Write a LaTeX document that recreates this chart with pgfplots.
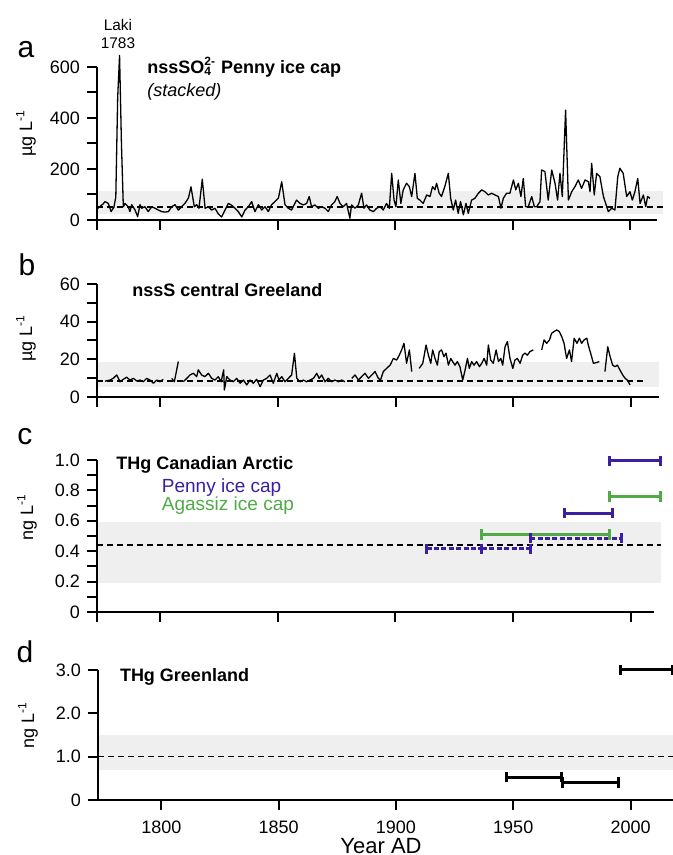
\documentclass[border=0pt]{standalone}
\usepackage{pgfplots}
\pgfplotsset{compat=1.18}
\usepackage{fontspec}
\setmainfont{Liberation Sans}
\definecolor{pennyblue}{HTML}{3C1EA0}
\definecolor{agassizgreen}{HTML}{50AA46}
\definecolor{bandgray}{HTML}{EFEFEF}
\newcommand{\tfont}{\fontsize{9}{10}\selectfont}
\pgfplotsset{
 panel/.style={
  scale only axis, axis lines=left, axis line style={-, line width=1pt},
  tick align=outside, major tick length=5pt, minor tick length=5pt,
  tick style={black, line width=1pt},
  xmin=1773, xtick={1800,1850,1900,1950,2000}, xticklabels={},
  tick label style={font=\fontsize{9}{10}\selectfont},
  /pgf/number format/assume math mode=true,
  clip=false, anchor=south west, axis on top,
 },
 meanline/.style={black, line width=0.8pt, dash pattern=on 3pt off 2pt},
 band/.style={draw=none, fill=bandgray, forget plot},
 series/.style={black, line width=0.65pt, line join=round},
 ebar/.style={line width=1.5pt, mark=|, mark size=2.6pt, mark options={solid}},
}
\begin{document}
\begin{tikzpicture}
\useasboundingbox (0,0) rectangle (336.5pt,427.5pt);

% ---------------- panel a
\begin{axis}[panel, at={(48.5pt,317.5pt)}, width=280pt, height=76.5pt,
  xmax=2011.3, ymin=0, ymax=600, ytick={0,200,400,600}, minor ytick={100,300,500},
  extra x ticks={1773}, extra x tick labels={}]
\addplot[band] coordinates {(1773,25) (2014,25) (2014,113) (1773,113)} -- cycle;
\addplot[meanline] coordinates {(1773,52) (2014,52)};
\addplot[series] table {
1773.3 45
1774.5 55
1775.5 62
1776.4 72
1777.8 65
1779.0 33
1780.2 50
1781.0 90
1781.8 480
1782.6 645
1783.4 300
1784.2 52
1784.9 65
1786.3 52
1787.0 33
1787.8 60
1789.2 39
1790.3 13
1791.3 60
1792.0 46
1793.4 52
1794.8 33
1796.3 52
1797.7 46
1799.1 39
1800.5 33
1801.9 31
1803.4 33
1804.8 52
1806.2 60
1807.6 39
1809.0 52
1810.4 65
1811.9 86
1813.0 130
1814.4 52
1815.4 60
1816.4 46
1817.8 160
1819.0 46
1820.4 52
1821.8 39
1823.2 46
1824.6 24
1826.0 12
1827.5 39
1828.9 65
1830.3 58
1831.7 46
1833.1 33
1834.6 12
1836.0 39
1837.4 52
1838.8 72
1840.2 33
1841.7 60
1843.1 39
1844.5 52
1845.9 33
1847.3 60
1848.7 72
1850.2 86
1851.6 150
1853.0 60
1854.4 46
1855.8 39
1857.9 78
1859.4 65
1860.8 59
1862.2 65
1863.3 92
1864.3 52
1865.7 59
1867.2 46
1868.6 52
1870.0 46
1871.4 33
1872.8 59
1874.2 72
1875.2 92
1876.4 65
1877.8 52
1879.2 65
1880.6 7
1881.3 59
1882.8 46
1884.2 59
1885.6 105
1886.6 46
1887.7 59
1889.1 39
1890.6 33
1892.0 46
1893.4 52
1894.8 39
1896.2 65
1897.4 46
1898.4 183
1899.4 78
1900.2 52
1901.2 157
1902.3 65
1903.3 118
1904.7 144
1905.9 131
1906.9 92
1908.3 183
1909.3 85
1910.4 78
1911.8 65
1913.3 98
1914.7 92
1915.8 131
1916.8 118
1917.5 144
1918.6 105
1919.6 92
1921.0 131
1922.5 183
1923.5 85
1924.6 39
1925.6 78
1926.7 26
1927.7 72
1928.9 20
1930.0 65
1931.0 26
1932.4 78
1933.8 85
1935.3 105
1936.7 118
1938.1 111
1939.5 98
1940.9 105
1942.4 98
1943.8 92
1944.9 46
1945.9 85
1947.3 105
1948.7 105
1950.2 157
1951.2 118
1952.3 144
1953.4 92
1954.4 163
1955.4 52
1956.5 52
1958.0 92
1959.1 52
1960.1 52
1961.5 72
1962.2 196
1963.6 190
1965.0 78
1966.5 196
1967.9 144
1969.0 78
1970.0 183
1971.0 92
1972.4 431
1973.6 78
1975.0 111
1976.4 131
1977.8 157
1979.2 124
1980.7 157
1982.1 150
1982.8 111
1983.5 222
1984.6 98
1985.6 183
1987.0 170
1988.5 92
1989.9 52
1990.6 33
1992.0 46
1993.4 39
1994.6 170
1995.5 203
1996.9 183
1998.4 92
1999.8 111
2000.8 78
2001.9 111
2003.1 163
2004.1 65
2005.5 98
2006.5 52
2007.3 92
2008.3 85
};
\end{axis}

% ---------------- panel b
\begin{axis}[panel, at={(48.5pt,229pt)}, width=281pt, height=56.5pt,
  xmax=2012.1, ymin=0, ymax=60, ytick={0,20,40,60}, minor ytick={10,30,50},
  extra x ticks={1773}, extra x tick labels={}, unbounded coords=jump]
\addplot[band] coordinates {(1773,5.5) (2012,5.5) (2012,18.8) (1773,18.8)} -- cycle;
\addplot[meanline] coordinates {(1773,8.6) (2006,8.6)};
\addplot[series] table {
1776.4 8.4
1778.5 9.0
1779.9 9.9
1781.4 11.7
1782.8 8.1
1784.2 9.4
1785.6 10.5
1787.0 9.0
1788.5 9.9
1789.9 8.5
1791.3 9.0
1792.7 8.1
1794.1 9.9
1795.5 9.0
1797.0 7.3
1798.4 9.0
1799.8 8.1
1801.2 9.4
1803.0 nan
1804.8 9.9
1805.9 8.1
1807.6 18.8
1808.6 nan
1809.7 8.1
1811.2 9.9
1812.6 11.7
1814.0 12.6
1815.4 10.8
1816.1 14.4
1817.5 11.7
1818.9 10.8
1820.4 12.6
1821.8 9.9
1823.2 9.0
1824.6 10.8
1825.8 8.1
1826.9 14.4
1827.2 3.7
1828.2 10.8
1829.6 9.0
1831.0 8.1
1832.4 9.9
1833.9 7.3
1835.3 9.0
1836.7 6.4
1838.1 9.0
1839.5 7.3
1840.9 9.4
1842.4 5.5
1843.8 9.0
1845.2 9.9
1846.6 11.7
1848.0 7.3
1849.5 12.6
1850.4 9.0
1851.6 10.8
1853.0 8.1
1854.4 9.9
1855.8 11.7
1857.0 23.2
1858.0 9.9
1859.4 8.1
1860.8 9.0
1862.2 8.1
1863.6 9.0
1865.1 9.9
1866.5 12.6
1867.5 9.9
1868.6 11.7
1870.0 8.1
1871.4 9.9
1872.8 8.1
1874.3 9.0
1875.7 8.1
1877.1 9.0
1878.5 8.1
1880.0 nan
1881.4 9.9
1882.8 11.7
1884.2 9.0
1885.6 10.8
1887.0 12.6
1888.5 9.9
1889.9 11.7
1891.3 13.5
1892.7 9.9
1893.6 9.0
1894.8 13.5
1896.2 15.2
1897.7 16.9
1899.1 20.5
1900.5 19.6
1901.6 22.2
1902.6 25.0
1903.6 28.5
1904.7 17.9
1905.9 25.0
1906.9 13.5
1908.5 nan
1910.1 15.2
1911.6 17.9
1913.0 27.6
1914.0 22.2
1915.0 17.9
1915.8 25.0
1916.8 20.5
1917.8 16.9
1918.6 24.1
1919.6 25.0
1920.6 21.4
1921.5 23.3
1922.5 16.9
1923.5 20.5
1924.3 18.8
1925.3 16.9
1926.3 18.8
1927.4 16.1
1928.6 9.0
1929.6 14.3
1930.6 20.5
1931.4 15.2
1932.4 18.8
1933.4 16.9
1934.5 18.8
1935.7 16.1
1936.7 17.9
1937.7 20.5
1938.8 16.9
1939.5 27.6
1940.5 19.6
1941.6 17.9
1942.8 25.0
1943.8 18.8
1944.8 20.5
1945.6 16.9
1946.6 26.7
1947.6 29.4
1948.7 20.5
1949.9 15.2
1950.8 19.6
1951.8 20.5
1953.0 17.9
1954.1 22.2
1955.1 23.3
1956.1 22.2
1957.2 24.1
1958.6 25.0
1960.5 nan
1962.2 25.0
1963.2 30.3
1964.3 28.5
1965.5 30.3
1966.4 33.8
1967.4 34.7
1968.6 35.6
1969.7 34.7
1970.7 32.1
1971.7 28.5
1972.8 20.5
1974.0 25.0
1974.9 18.8
1976.0 31.2
1977.2 28.5
1978.2 31.2
1979.2 28.5
1980.2 30.3
1981.4 31.2
1982.0 27.6
1983.0 23.3
1984.2 17.9
1985.6 18.3
1986.7 18.8
1988.0 nan
1989.1 13.5
1990.3 26.7
1991.3 21.4
1992.4 16.9
1993.4 16.1
1994.4 16.9
1995.5 14.3
1996.7 11.6
1997.7 9.9
1998.6 9.0
1999.8 6.4
};
\end{axis}

% ---------------- panel c
\begin{axis}[panel, at={(48.5pt,121.5pt)}, width=278.5pt, height=76pt,
  xmax=2010.0, ymin=0, ymax=1.0, ytick={0,0.2,0.4,0.6,0.8,1.0},
  yticklabels={0,0.2,0.4,0.6,0.8,1.0}, minor ytick={0.1,0.3,0.5,0.7,0.9},
  extra x ticks={1773}, extra x tick labels={}]
\addplot[band] coordinates {(1773,0.19) (2013,0.19) (2013,0.59) (1773,0.59)} -- cycle;
\addplot[meanline, line width=0.7pt] coordinates {(1773,0.44) (2013,0.44)};
\addplot[ebar, agassizgreen] coordinates {(1936.8,0.51) (1991.0,0.51)};
\addplot[ebar, agassizgreen] coordinates {(1991.0,0.76) (2012.6,0.76)};
\addplot[ebar, pennyblue] coordinates {(1991.2,0.995) (2012.6,0.995)};
\addplot[ebar, pennyblue] coordinates {(1972.0,0.65) (1992.3,0.65)};
\addplot[ebar, pennyblue, dash pattern=on 2.5pt off 1.2pt] coordinates {(1957.3,0.485) (1996.2,0.485)};
\addplot[ebar, pennyblue, dash pattern=on 2.5pt off 1.2pt] coordinates {(1913.2,0.415) (1936.8,0.415)};
\addplot[ebar, pennyblue, dash pattern=on 2.5pt off 1.2pt] coordinates {(1936.8,0.415) (1957.3,0.415)};
\end{axis}

% ---------------- panel d
\begin{axis}[panel, at={(49pt,27.5pt)}, width=287.5pt, height=65pt,
  xmax=2018.1, ymin=0, ymax=3.0, ytick={0,1,2,3}, yticklabels={0,1.0,2.0,3.0},
  xticklabels={1800,1850,1900,1950,2000},
  xticklabel style={yshift=-2pt, font=\fontsize{9}{10}\selectfont}]
\addplot[band] coordinates {(1773,0.70) (2019,0.70) (2019,1.51) (1773,1.51)} -- cycle;
\addplot[meanline, line width=0.7pt] coordinates {(1773,1.0) (2019,1.0)};
\addplot[ebar, black] coordinates {(1947.2,0.53) (1970.7,0.53)};
\addplot[ebar, black] coordinates {(1971.2,0.40) (1994.7,0.40)};
\addplot[ebar, black] coordinates {(1995.7,3.0) (2017.8,3.0)};
\end{axis}

% ---------------- texts
\node[font=\fontsize{15}{16}\selectfont] at (13pt,402.5pt) {a};
\node[font=\fontsize{15}{16}\selectfont] at (13.5pt,295pt) {b};
\node[font=\fontsize{15}{16}\selectfont] at (12.5pt,209pt) {c};
\node[font=\fontsize{15}{16}\selectfont] at (12.5pt,101.5pt) {d};

\node[align=center, font=\fontsize{7.7}{9}\selectfont] at (59pt,410.5pt) {Laki\\1783};
\node[anchor=west, inner sep=0pt, font=\bfseries\tfont] at (73.5pt,394pt)
  {nssSO\rlap{\textsubscript{4}}\textsuperscript{2-} Penny ice cap};
\node[anchor=west, inner sep=0pt, font=\itshape\tfont] at (73.5pt,381.5pt) {(stacked)};
\node[anchor=west, inner sep=0pt, font=\bfseries\tfont] at (66pt,282.5pt) {nssS central Greeland};
\node[anchor=west, inner sep=0pt, font=\bfseries\tfont] at (58pt,195pt) {THg Canadian Arctic};
\node[anchor=west, inner sep=0pt, text=pennyblue, font=\fontsize{9.5}{10}\selectfont] at (80.75pt,183.5pt) {Penny ice cap};
\node[anchor=west, inner sep=0pt, text=agassizgreen, font=\fontsize{9.5}{10}\selectfont] at (80.75pt,174.5pt) {Agassiz ice cap};
\node[anchor=west, inner sep=0pt, font=\bfseries\tfont] at (59.8pt,89pt) {THg Greenland};

\node[rotate=90, font=\tfont] at (13pt,361pt) {µg L\textsuperscript{-1}};
\node[rotate=90, font=\tfont] at (13pt,258.5pt) {µg L\textsuperscript{-1}};
\node[rotate=90, font=\tfont] at (13.5pt,169pt) {ng L\textsuperscript{-1}};
\node[rotate=90, font=\tfont] at (14pt,65pt) {ng L\textsuperscript{-1}};

\node[font=\fontsize{11}{12}\selectfont] at (190.5pt,4.5pt) {Year AD};
\end{tikzpicture}
\end{document}
